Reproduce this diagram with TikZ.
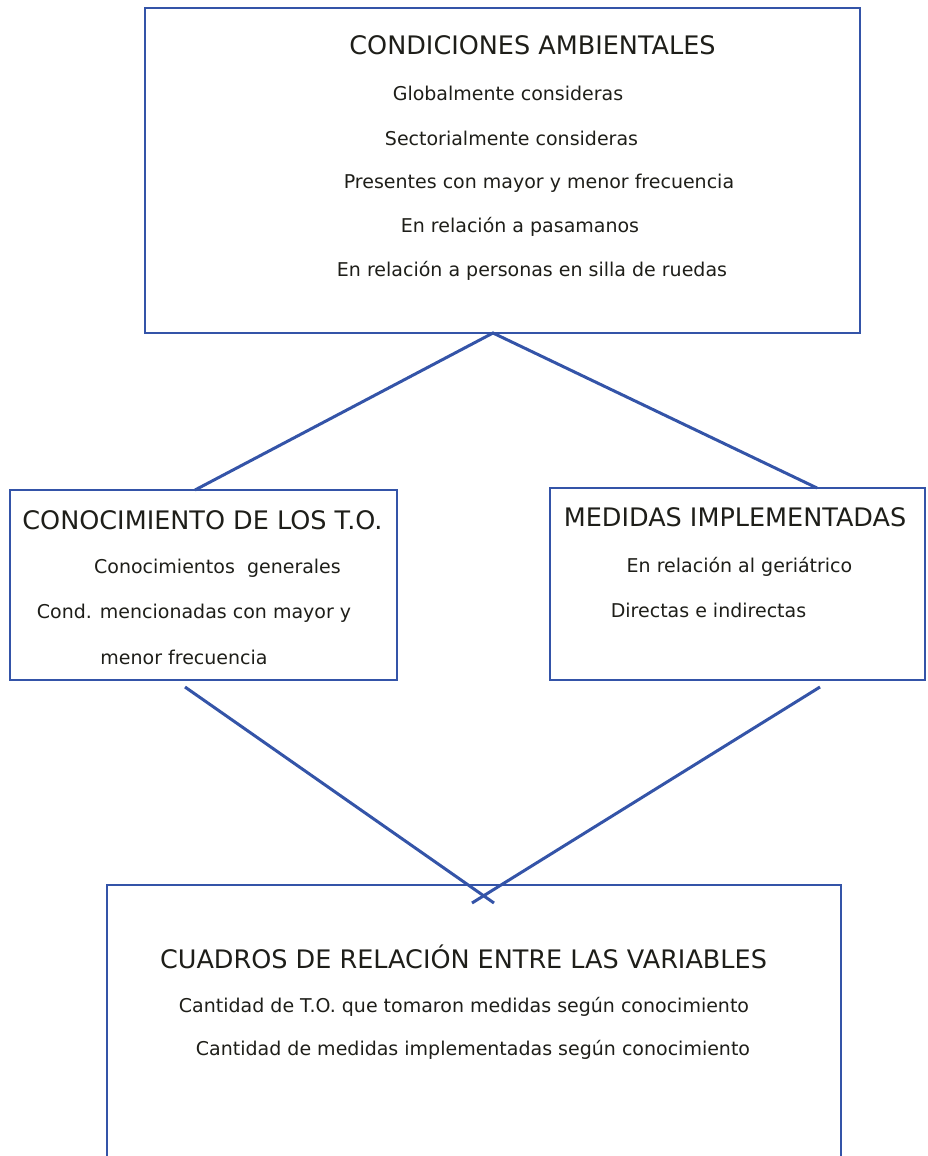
\documentclass[tikz,border=0pt]{standalone}
\usepackage{fontspec}
\setmainfont{DejaVu Sans}
\definecolor{boxblue}{RGB}{52,84,168}
\definecolor{ink}{RGB}{30,30,25}
\begin{document}
\begin{tikzpicture}[x=1pt,y=-1pt,
        box/.style={draw=boxblue,line width=2.8pt,rectangle,inner sep=0pt},
        head/.style={text=ink,inner sep=0pt,font=\fontsize{25.5}{30}\selectfont},
        item/.style={text=ink,inner sep=0pt,font=\fontsize{19}{23}\selectfont},
        link/.style={draw=boxblue,line width=3pt}]
        \useasboundingbox (0,0) rectangle (928,1156);
        \node [box,minimum width=715pt,minimum height=325pt] (cond) at (502.5,170.5) {};
        \node [box,minimum width=387pt,minimum height=190pt] (conoc) at (203.5,585) {};
        \node [box,minimum width=375pt,minimum height=192pt] (med) at (737.5,584) {};
        \node [box,minimum width=734pt,minimum height=280pt] (cuad) at (474,1025) {};
        \node [head] (cond-title) at (532.5,45) {CONDICIONES AMBIENTALES};
        \node [item] (cond-a) at (508,93) {Globalmente consideras};
        \node [item] (cond-b) at (511.5,138) {Sectorialmente consideras};
        \node [item] (cond-c) at (539,183) {Presentes con mayor y menor frecuencia};
        \node [item] (cond-d) at (520,227) {En relación a pasamanos};
        \node [item] (cond-e) at (532,271) {En relación a personas en silla de ruedas};
        \node [head] (conoc-title) at (202.5,520) {CONOCIMIENTO DE LOS T.O.};
        \node [item] (conoc-a) at (217.5,568) {Conocimientos~ generales};
        \node [item] (conoc-b) at (194,613) {Cond. mencionadas con mayor y};
        \node [item] (conoc-c) at (184,657) {menor frecuencia};
        \node [head] (med-title) at (735,517) {MEDIDAS IMPLEMENTADAS};
        \node [item] (med-a) at (739.5,567) {En relación al geriátrico};
        \node [item] (med-b) at (708.5,610) {Directas e indirectas};
        \node [head] (cuad-title) at (463.5,957) {CUADROS DE RELACIÓN ENTRE LAS VARIABLES};
        \node [item] (cuad-a) at (464,1007) {Cantidad de T.O. que tomaron medidas según conocimiento};
        \node [item] (cuad-b) at (473,1050) {Cantidad de medidas implementadas según conocimiento};
        \coordinate (apex) at (493,333);
        \coordinate (conoc-in) at (195,490);
        \coordinate (med-in) at (817,488);
        \coordinate (conoc-out) at (185,687);
        \coordinate (med-out) at (820,687);
        \coordinate (cross-l) at (494,903);
        \coordinate (cross-r) at (472,903);
        \draw [link] (conoc-in) to (apex) to (med-in);
        \draw [link] (conoc-out) to (cross-l);
        \draw [link] (med-out) to (cross-r);
    \end{tikzpicture}
\end{document}
